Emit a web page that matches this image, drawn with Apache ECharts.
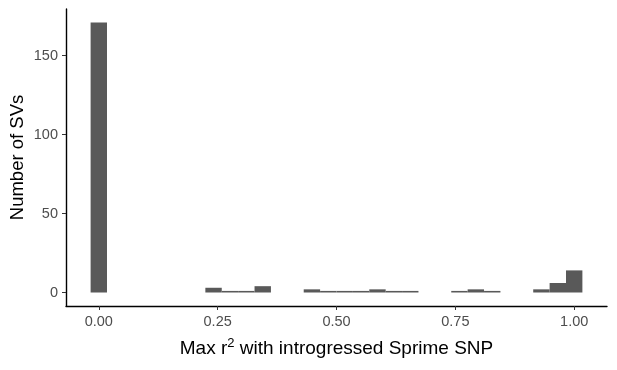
<!DOCTYPE html>
<html>
<head>
<meta charset="utf-8">
<script src="https://cdn.jsdelivr.net/npm/echarts@6/dist/echarts.min.js"></script>
<style>
  html, body { margin: 0; padding: 0; background: #fff; }
  #chart { width: 617px; height: 370px; }
</style>
</head>
<body>
<div id="chart"></div>
<script>
// histogram: 30 bins over [0, 1], bin width 1/29 (ggplot default)
var binWidth = 1 / 29;
var counts = [171, 0, 0, 0, 0, 0, 0, 3, 1, 1,
              4, 0, 0, 2, 1, 1, 1, 2, 1, 1,
              0, 0, 1, 2, 1, 0, 0, 2, 6, 14];
var xTicks = [0, 0.25, 0.5, 0.75, 1];
var yTicks = [0, 50, 100, 150];

var data = counts.map(function (c, i) { return [i * binWidth, c]; });

var chart = echarts.init(document.getElementById('chart'));

chart.setOption({
    animation: false,
    grid: { left: 66, right: 10, top: 9, bottom: 64, outerBoundsMode: 'none' },
    xAxis: {
        type: 'value',
        min: -0.069,
        max: 1.069,
        splitLine: { show: false },
        axisLine: { onZero: false, lineStyle: { color: '#000', width: 1.4 } },
        axisTick: { customValues: xTicks, length: 4, lineStyle: { color: '#333' } },
        axisLabel: {
            customValues: xTicks,
            formatter: function (v) { return v.toFixed(2); },
            color: '#4d4d4d', fontSize: 14.5, margin: 8,
            fontFamily: 'Liberation Sans'
        },
        name: 'Max r{sup|2} with introgressed Sprime SNP',
        nameLocation: 'middle',
        nameGap: 31,
        nameMoveOverlap: false,
        nameTextStyle: {
            color: '#000', fontSize: 19, fontFamily: 'Liberation Sans',
            rich: { sup: { fontSize: 13, fontFamily: 'Liberation Sans', color: '#000', verticalAlign: 'bottom', padding: [0, 0, 10, 0] } }
        }
    },
    yAxis: {
        type: 'value',
        min: -8.55,
        max: 179.55,
        splitLine: { show: false },
        axisLine: { show: true, onZero: false, lineStyle: { color: '#000', width: 1.4 } },
        axisTick: { show: true, customValues: yTicks, length: 4, lineStyle: { color: '#333' } },
        axisLabel: {
            customValues: yTicks,
            color: '#4d4d4d', fontSize: 14.5, margin: 8,
            fontFamily: 'Liberation Sans'
        },
        name: 'Number of SVs',
        nameLocation: 'middle',
        nameGap: 39,
        nameMoveOverlap: false,
        nameTextStyle: { color: '#000', fontSize: 18.5, fontFamily: 'Liberation Sans' }
    },
    series: [{
        type: 'custom',
        data: data,
        renderItem: function (params, api) {
            var c = api.value(0), v = api.value(1);
            if (!v) return null;
            var p0 = api.coord([c - binWidth / 2, v]);
            var p1 = api.coord([c + binWidth / 2, 0]);
            return {
                type: 'rect',
                shape: { x: p0[0], y: p0[1], width: p1[0] - p0[0], height: p1[1] - p0[1] },
                style: { fill: '#595959' }
            };
        },
        encode: { x: 0, y: 1 }
    }]
});
</script>
</body>
</html>
